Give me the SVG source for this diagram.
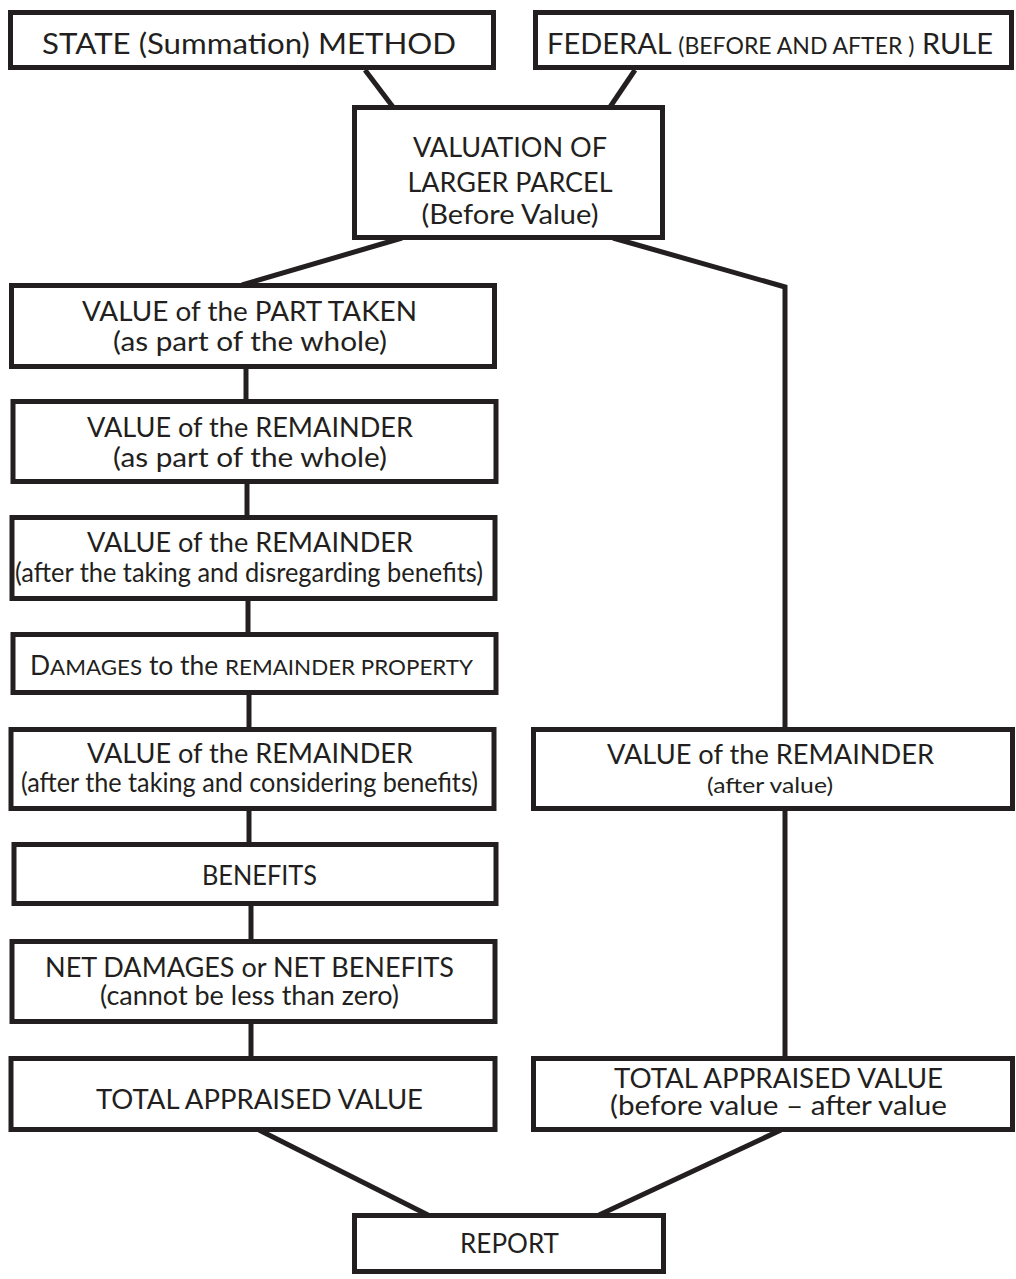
<svg xmlns="http://www.w3.org/2000/svg" width="1016" height="1279" viewBox="0 0 1016 1279">
  <style>
    .box { fill: #ffffff; stroke: #231f20; stroke-width: 5; }
    .wire { fill: none; stroke: #231f20; stroke-width: 5; stroke-linecap: butt; stroke-linejoin: miter; }
    text { font-family: Lato, "Open Sans", "DejaVu Sans", sans-serif; fill: #231f20; text-anchor: middle; }
    .big { font-size: 29px; }
    .body { font-size: 26px; }
    .small { font-size: 22px; }
    .sc { font-size: 22px; }
    .sc-top { font-size: 23px; }
  </style>
  <rect width="1016" height="1279" fill="#ffffff"/>

  <!-- connectors -->
  <g id="connectors">
    <line class="wire" x1="365" y1="70" x2="393" y2="107"/>
    <line class="wire" x1="635" y1="70" x2="610" y2="107"/>
    <line class="wire" x1="402" y1="238" x2="242" y2="285"/>
    <polyline class="wire" points="613,238 785,287 785,729"/>
    <line class="wire" x1="785" y1="809" x2="785" y2="1058"/>
    <line class="wire" x1="246" y1="367" x2="246" y2="401"/>
    <line class="wire" x1="247" y1="482" x2="247" y2="517"/>
    <line class="wire" x1="248" y1="599" x2="248" y2="634"/>
    <line class="wire" x1="249" y1="693" x2="249" y2="729"/>
    <line class="wire" x1="249" y1="809" x2="249" y2="844"/>
    <line class="wire" x1="251" y1="904" x2="251" y2="941"/>
    <line class="wire" x1="251" y1="1022" x2="251" y2="1058"/>
    <line class="wire" x1="259" y1="1130" x2="428" y2="1215"/>
    <line class="wire" x1="781" y1="1130" x2="599" y2="1215"/>
  </g>

  <g id="state-method">
    <rect class="box" x="10.5" y="12.5" width="483" height="55"/>
    <text class="big" x="249" y="54" textLength="414" lengthAdjust="spacingAndGlyphs">STATE (Summation) METHOD</text>
  </g>

  <g id="federal-rule">
    <rect class="box" x="535.5" y="12.5" width="476" height="55"/>
    <text class="big" x="770" y="54" textLength="446" lengthAdjust="spacingAndGlyphs">FEDERAL <tspan class="sc-top">(BEFORE AND AFTER )</tspan> RULE</text>
  </g>

  <g id="larger-parcel">
    <rect class="box" x="354.5" y="107.5" width="308" height="130"/>
    <text class="body" x="510" y="157" textLength="194" lengthAdjust="spacingAndGlyphs">VALUATION OF</text>
    <text class="body" x="510" y="192" textLength="205" lengthAdjust="spacingAndGlyphs">LARGER PARCEL</text>
    <text class="body" x="510" y="224" textLength="177" lengthAdjust="spacingAndGlyphs">(Before Value)</text>
  </g>

  <g id="part-taken">
    <rect class="box" x="11.5" y="285.5" width="483" height="81"/>
    <text class="body" x="249.5" y="321" textLength="335" lengthAdjust="spacingAndGlyphs">VALUE of the PART TAKEN</text>
    <text class="body" x="250" y="351" textLength="274" lengthAdjust="spacingAndGlyphs">(as part of the whole)</text>
  </g>

  <g id="remainder-whole">
    <rect class="box" x="13" y="401.5" width="483" height="80"/>
    <text class="body" x="250" y="437" textLength="326" lengthAdjust="spacingAndGlyphs">VALUE of the REMAINDER</text>
    <text class="body" x="250" y="467" textLength="274" lengthAdjust="spacingAndGlyphs">(as part of the whole)</text>
  </g>

  <g id="remainder-disregarding">
    <rect class="box" x="12" y="517.5" width="483" height="81"/>
    <text class="body" x="250" y="552" textLength="326" lengthAdjust="spacingAndGlyphs">VALUE of the REMAINDER</text>
    <text class="body" x="249" y="582" textLength="468" lengthAdjust="spacingAndGlyphs">(after the taking and disregarding benefits)</text>
  </g>

  <g id="damages">
    <rect class="box" x="13" y="634.5" width="483" height="58"/>
    <text class="body" x="251.5" y="675" textLength="443" lengthAdjust="spacingAndGlyphs">D<tspan class="sc">AMAGES</tspan> to the <tspan class="sc">REMAINDER PROPERTY</tspan></text>
  </g>

  <g id="remainder-considering">
    <rect class="box" x="11" y="729.5" width="483" height="79"/>
    <text class="body" x="250" y="763" textLength="326" lengthAdjust="spacingAndGlyphs">VALUE of the REMAINDER</text>
    <text class="body" x="249.5" y="792" textLength="457" lengthAdjust="spacingAndGlyphs">(after the taking and considering benefits)</text>
  </g>

  <g id="benefits">
    <rect class="box" x="14" y="844.5" width="482" height="59"/>
    <text class="body" x="259.5" y="885" textLength="115" lengthAdjust="spacingAndGlyphs">BENEFITS</text>
  </g>

  <g id="net-damages">
    <rect class="box" x="12" y="941.5" width="483" height="80"/>
    <text class="body" x="249.5" y="977" textLength="409" lengthAdjust="spacingAndGlyphs">NET DAMAGES or NET BENEFITS</text>
    <text class="body" x="249.5" y="1005" textLength="299" lengthAdjust="spacingAndGlyphs">(cannot be less than zero)</text>
  </g>

  <g id="total-state">
    <rect class="box" x="11" y="1058.5" width="484" height="71"/>
    <text class="body" x="259.5" y="1109" textLength="327" lengthAdjust="spacingAndGlyphs">TOTAL APPRAISED VALUE</text>
  </g>

  <g id="remainder-after">
    <rect class="box" x="533.5" y="729.5" width="479" height="79"/>
    <text class="body" x="770.5" y="764" textLength="327" lengthAdjust="spacingAndGlyphs">VALUE of the REMAINDER</text>
    <text class="small" x="770" y="793" textLength="126" lengthAdjust="spacingAndGlyphs">(after value)</text>
  </g>

  <g id="total-federal">
    <rect class="box" x="533.5" y="1058.5" width="479" height="71"/>
    <text class="body" x="778.5" y="1088" textLength="329" lengthAdjust="spacingAndGlyphs">TOTAL APPRAISED VALUE</text>
    <text class="body" x="778.5" y="1115" textLength="337" lengthAdjust="spacingAndGlyphs">(before value – after value</text>
  </g>

  <g id="report">
    <rect class="box" x="354.5" y="1215.5" width="309" height="56"/>
    <text class="body" x="509.5" y="1253" textLength="99" lengthAdjust="spacingAndGlyphs">REPORT</text>
  </g>
</svg>
